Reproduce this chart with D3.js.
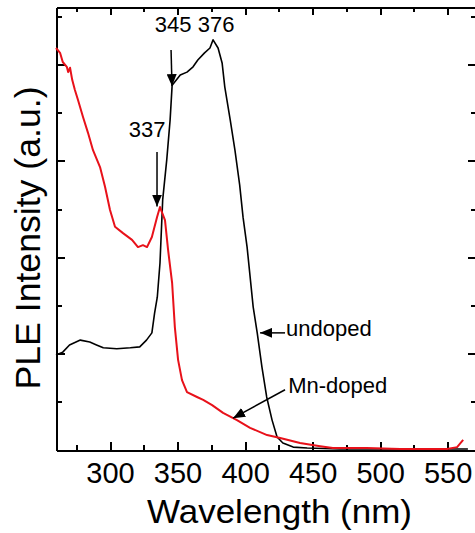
<!DOCTYPE html>
<html>
<head>
<meta charset="utf-8">
<title>PLE spectra</title>
<style>
  body { margin: 0; background: #fff; }
  svg { display: block; font-family: "Liberation Sans", Arial, sans-serif; }
  .axis path, .axis line { fill: none; stroke: #000; stroke-width: 2px; shape-rendering: crispEdges; }
  .axis text { font-size: 29px; fill: #000; }
  path.line { fill: none; stroke-linejoin: round; }
  .note { font-size: 22px; fill: #000; }
</style>
<script src="https://d3js.org/d3.v7.min.js"></script>
</head>
<body>
<div id="graph"></div>
<script>
// spectra (wavelength in nm, intensity in arbitrary units)
var undopedWl = [260, 265, 270, 278, 285, 290, 295, 305, 315, 322, 327, 331, 333, 335, 337, 339, 342, 344.5, 346,
  352, 357, 361.5, 365, 370, 374, 376.3, 380, 383, 385, 389, 392.5, 396, 398.5, 401.5, 406, 409, 412.5, 416, 420,
  423.7, 428, 435.6, 446, 470, 500, 530, 565];
var undopedVal = [1.97, 2.03, 2.18, 2.28, 2.24, 2.18, 2.12, 2.10, 2.12, 2.14, 2.28, 2.43, 2.84, 3.17, 3.88, 5.19, 6.02, 6.85, 7.57,
  7.78, 7.84, 7.95, 8.09, 8.24, 8.34, 8.51, 8.34, 8.03, 7.53, 6.85, 6.22, 5.50, 4.83, 4.21, 2.97, 2.43, 1.72, 1.10, 0.62,
  0.27, 0.145, 0.06, 0.04, 0.02, 0.02, 0.02, 0.02];

var mnWl = [260, 263, 265, 268, 269, 270.4, 272, 274, 276.3, 280, 283.7, 287.4, 292.6, 296.3, 300, 303.7, 309.6, 316.3,
  320.7, 324.4, 327.4, 331, 334.8, 337, 340.7, 343, 346, 348, 350.4, 353.3, 357, 364.4, 369, 375.6, 383.7, 394,
  403.7, 416.3, 426, 440.7, 455.6, 465, 490, 515, 549.6, 557, 561.5];
var mnVal = [8.34, 8.24, 8.05, 7.95, 7.84, 7.93, 7.68, 7.47, 7.26, 6.91, 6.58, 6.22, 5.87, 5.46, 4.98, 4.63, 4.50, 4.36,
  4.21, 4.25, 4.21, 4.42, 4.83, 5.04, 4.77, 4.15, 3.46, 2.55, 1.87, 1.45, 1.20, 1.10, 1.04, 0.93, 0.77, 0.62,
  0.46, 0.31, 0.25, 0.145, 0.08, 0.04, 0.04, 0.02, 0.02, 0.06, 0.21];

var majorX = [300, 350, 400, 450, 500, 550];
var minorX = [275, 325, 375, 425, 475, 525];
var majorY = [2, 4, 6, 8];
var minorY = [1, 3, 5, 7, 9];

// peak labels and arrows: [text, textX, textY, fromX, fromY, toX, toY]
var peakLabels = ["345", "376", "337"];
var peakText = [[346.7, 8.67], [378.5, 8.67], [327.4, 6.49]];
var peakArrows = [[[345.2, 8.30], [345.9, 7.55]], null, [[334.8, 6.18], [334.8, 5.05]]];
var legendLabels = ["undoped", "Mn-doped"];
var legendText = [[430.4, 2.37], [431.9, 1.18]];
var legendArrows = [[[429.6, 2.43], [411.1, 2.43]], [[429.6, 1.25], [391.1, 0.66]]];

var margin = { top: 7, right: -1, bottom: 83, left: 56 };
var W = 475, H = 533;
var width = W - margin.left - margin.right;
var height = H - margin.top - margin.bottom;

var svg = d3.select("#graph").append("svg")
    .attr("width", W)
    .attr("height", H);

svg.append("defs").append("marker")
    .attr("id", "head")
    .attr("markerUnits", "userSpaceOnUse")
    .attr("viewBox", "0 0 12 10")
    .attr("refX", 12).attr("refY", 5)
    .attr("markerWidth", 12).attr("markerHeight", 10)
    .attr("orient", "auto")
    .append("path")
    .attr("d", "M0,0 L12,5 L0,10 Z")
    .attr("fill", "#000");

var g = svg.append("g")
    .attr("transform", "translate(" + margin.left + "," + margin.top + ")");

var x = d3.scaleLinear().domain([260, 571]).range([0, width]);
var y = d3.scaleLinear().domain([0, height / 48.2]).range([height, 0]);

function addAxis(axis, tr, cls) {
    var a = g.append("g").attr("class", "axis " + cls).call(axis);
    if (tr) a.attr("transform", tr);
    return a;
}

// bottom
addAxis(d3.axisBottom(x).tickValues(minorX).tickSize(-5).tickSizeOuter(0).tickFormat(""), "translate(0," + height + ")", "minor");
addAxis(d3.axisBottom(x).tickValues(majorX).tickSize(-8).tickSizeOuter(0).tickPadding(12).tickFormat(d3.format("d")), "translate(0," + height + ")", "x");
// top
addAxis(d3.axisTop(x).tickValues(minorX).tickSize(-5).tickSizeOuter(0).tickFormat(""), null, "minor");
addAxis(d3.axisTop(x).tickValues(majorX).tickSize(-8).tickSizeOuter(0).tickFormat(""), null, "top");
// left
addAxis(d3.axisLeft(y).tickValues(minorY).tickSize(-6).tickSizeOuter(0).tickFormat(""), null, "minor");
addAxis(d3.axisLeft(y).tickValues(majorY).tickSize(-9).tickSizeOuter(0).tickFormat(""), null, "y");
// right
addAxis(d3.axisRight(y).tickValues(minorY).tickSize(-5).tickSizeOuter(0).tickFormat(""), "translate(" + width + ",0)", "minor");
addAxis(d3.axisRight(y).tickValues(majorY).tickSize(-8).tickSizeOuter(0).tickFormat(""), "translate(" + width + ",0)", "right");

g.selectAll(".x text").attr("font-size", 29);

var line = d3.line()
    .x(function(d) { return x(d[0]); })
    .y(function(d) { return y(d[1]); });

g.append("path")
    .datum(d3.zip(undopedWl, undopedVal))
    .attr("class", "line")
    .style("stroke", "#000")
    .style("stroke-width", 1.6)
    .attr("d", line);

g.append("path")
    .datum(d3.zip(mnWl, mnVal))
    .attr("class", "line")
    .style("stroke", "#e8111a")
    .style("stroke-width", 2)
    .attr("d", line);

// annotations
peakLabels.forEach(function(t, i) {
    g.append("text").attr("class", "note")
        .attr("x", x(peakText[i][0])).attr("y", y(peakText[i][1]))
        .attr("text-anchor", "middle")
        .text(t);
    var a = peakArrows[i];
    if (a) {
        g.append("line")
            .attr("x1", x(a[0][0])).attr("y1", y(a[0][1]))
            .attr("x2", x(a[1][0])).attr("y2", y(a[1][1]))
            .attr("stroke", "#000").attr("stroke-width", 1.5)
            .attr("marker-end", "url(#head)");
    }
});

legendLabels.forEach(function(t, i) {
    g.append("text").attr("class", "note")
        .attr("x", x(legendText[i][0])).attr("y", y(legendText[i][1]))
        .text(t);
    var a = legendArrows[i];
    g.append("line")
        .attr("x1", x(a[0][0])).attr("y1", y(a[0][1]))
        .attr("x2", x(a[1][0])).attr("y2", y(a[1][1]))
        .attr("stroke", "#000").attr("stroke-width", 1.5)
        .attr("marker-end", "url(#head)");
});

// axis titles
svg.append("text")
    .attr("x", 279.5).attr("y", 523)
    .attr("text-anchor", "middle")
    .attr("font-size", 34)
    .attr("textLength", 265).attr("lengthAdjust", "spacingAndGlyphs")
    .text("Wavelength (nm)");

svg.append("text")
    .attr("transform", "translate(40,238) rotate(-90)")
    .attr("text-anchor", "middle")
    .attr("font-size", 35)
    .attr("textLength", 303).attr("lengthAdjust", "spacingAndGlyphs")
    .text("PLE Intensity (a.u.)");
</script>
</body>
</html>
